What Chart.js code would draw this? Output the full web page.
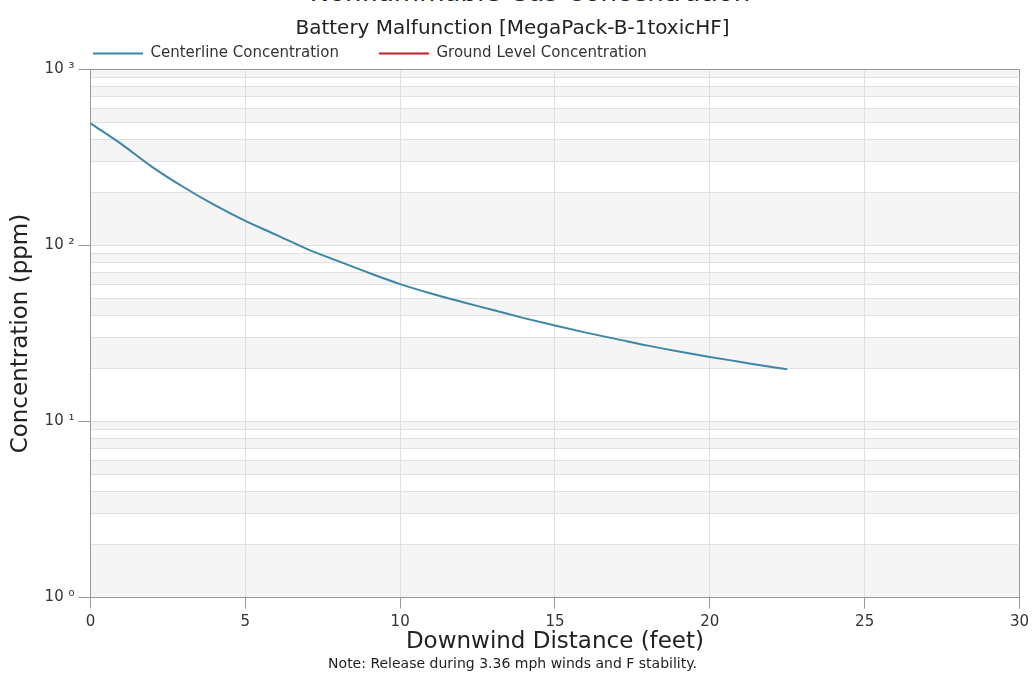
<!DOCTYPE html>
<html>
<head>
<meta charset="utf-8">
<script src="https://cdn.jsdelivr.net/npm/chart.js@4"></script>
<style>
  html, body { margin: 0; padding: 0; background: #fff; overflow: hidden; }
  #wrap { position: relative; width: 1034px; height: 686px; }
  #topTitle {
    position: absolute; left: 0; width: 1060px; top: -23px; line-height: 30px;
    text-align: center; font-size: 26px; font-family: "DejaVu Sans", sans-serif; color: #222;
  }
  canvas { position: absolute; left: 0; top: 0; }
</style>
</head>
<body>
<div id="wrap">
  <div id="topTitle">Nonflammable Gas Concentration</div>
  <canvas id="myChart" width="1034" height="686"></canvas>
</div>
<script>
// Values
const distance = [0, 1, 2, 3, 4, 5, 6, 7, 8, 9, 10, 11, 12, 13, 14, 15, 16, 17, 18, 19, 20, 21, 22, 22.5];
const centerline = [495, 377, 279, 215, 170, 138, 115, 95.5, 81.6, 69.8, 60.4, 53.4, 47.8, 43.0, 38.7, 35.1, 32.0, 29.4, 27.0, 25.0, 23.3, 21.8, 20.4, 19.8];
const groundLevel = [];

const yTickValues = [1, 2, 3, 4, 5, 6, 7, 8, 9,
    10, 20, 30, 40, 50, 60, 70, 80, 90,
    100, 200, 300, 400, 500, 600, 700, 800, 900, 1000];
const yTickLabels = { 1: '10 \u2070', 10: '10 \u00b9', 100: '10 \u00b2', 1000: '10 \u00b3' };

const FONT = '"DejaVu Sans", Verdana, sans-serif';

// Alternating grey bands between the y grid lines
const bandPlugin = {
    id: 'bands',
    beforeDraw(chart) {
        const { ctx, chartArea, scales } = chart;
        const y = scales.y;
        ctx.save();
        ctx.fillStyle = '#f5f5f5';
        for (let i = 0; i < yTickValues.length - 1; i += 2) {
            const top = y.getPixelForValue(yTickValues[i + 1]);
            const bottom = y.getPixelForValue(yTickValues[i]);
            ctx.fillRect(chartArea.left, top, chartArea.right - chartArea.left, bottom - top);
        }
        ctx.restore();
    }
};

// Move the legend so it starts near the plot's left edge
const legendShift = {
    id: 'legendShift',
    afterLayout(chart) {
        chart.legend.left = 53;
        chart.legend.top += 1.5;
        chart.legend.bottom += 1.5;
    }
};

function renderChart() {
    const ctx = document.getElementById('myChart').getContext('2d');
    new Chart(ctx, {
        type: 'line',
        data: {
            datasets: [
                {
                    label: 'Centerline Concentration',
                    data: distance.map((d, i) => ({ x: d, y: centerline[i] })),
                    borderColor: '#3d86a6',
                    borderWidth: 2,
                    pointRadius: 0,
                    cubicInterpolationMode: 'monotone',
                    fill: false
                },
                {
                    label: 'Ground Level Concentration',
                    data: groundLevel,
                    borderColor: '#c0202a',
                    borderWidth: 2,
                    pointRadius: 0,
                    fill: false
                }
            ]
        },
        options: {
            responsive: false,
            animation: false,
            layout: { padding: { left: 0, right: 9, top: 0, bottom: 0 } },
            plugins: {
                legend: {
                    position: 'top',
                    align: 'start',
                    labels: {
                        usePointStyle: true,
                        pointStyle: 'line',
                        pointStyleWidth: 50,
                        padding: 40,
                        color: '#333',
                        font: { family: FONT, size: 15 }
                    }
                },
                title: {
                    display: true,
                    text: 'Battery Malfunction [MegaPack-B-1toxicHF]',
                    color: '#222',
                    font: { family: FONT, size: 20, weight: 'normal' },
                    padding: { top: 17, bottom: -36.5 }
                },
                subtitle: {
                    display: true,
                    position: 'bottom',
                    text: 'Note: Release during 3.36 mph winds and F stability.',
                    color: '#222',
                    font: { family: FONT, size: 14 },
                    padding: { top: 0, bottom: 13 }
                },
                tooltip: { enabled: false }
            },
            scales: {
                x: {
                    type: 'linear',
                    min: 0,
                    max: 30,
                    ticks: { stepSize: 5, color: '#333', font: { family: FONT, size: 15 }, padding: 5 },
                    grid: {
                        color: c => (c.tick && c.tick.value === 30 ? '#999' : '#e0e0e0'),
                        tickColor: '#999',
                        tickLength: 11
                    },
                    border: { color: '#999' },
                    title: {
                        display: true,
                        text: 'Downwind Distance (feet)',
                        color: '#222',
                        font: { family: FONT, size: 23 },
                        padding: { top: -8, bottom: 0 }
                    }
                },
                y: {
                    type: 'logarithmic',
                    min: 1,
                    max: 1000,
                    afterBuildTicks: scale => {
                        scale.ticks = yTickValues.map(v => ({ value: v }));
                    },
                    ticks: {
                        autoSkip: false,
                        color: '#333',
                        font: { family: FONT, size: 15 },
                        padding: 4,
                        callback: v => yTickLabels[v] || ''
                    },
                    grid: {
                        color: c => (c.tick && c.tick.value === 1000 ? '#999' : '#e0e0e0'),
                        tickColor: c => (c.tick && yTickLabels[c.tick.value] ? '#999' : 'rgba(0,0,0,0)'),
                        tickLength: 12
                    },
                    border: { color: '#999' },
                    title: {
                        display: true,
                        text: 'Concentration (ppm)',
                        color: '#222',
                        font: { family: FONT, size: 23 },
                        padding: { top: 7, bottom: 6 }
                    }
                }
            }
        },
        plugins: [bandPlugin, legendShift]
    });
}

renderChart();
</script>
</body>
</html>
